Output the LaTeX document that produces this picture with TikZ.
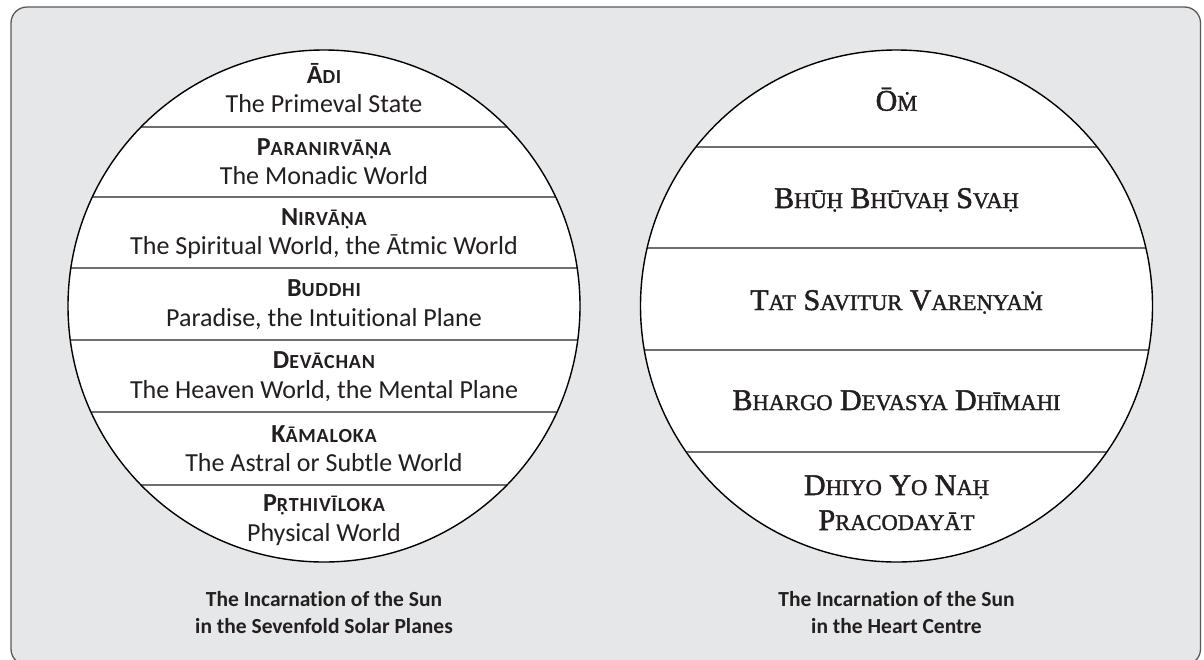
\documentclass[tikz,border=0pt]{standalone}
\usepackage{fontspec}
\newfontfamily\lfont[Ligatures=NoCommon]{Carlito}
\newfontfamily\rfont[FakeBold=1.6]{Liberation Serif}
\newcommand\lsc[1]{{\fontsize{20}{20}\selectfont\addfontfeature{LetterSpace=4}#1}}
\newcommand\rsc[1]{{\fontsize{22.5}{22.5}\selectfont #1}}
\definecolor{framefill}{HTML}{E6E7E8}
\definecolor{framedraw}{HTML}{58595B}
\definecolor{bandline}{HTML}{6D6E70}
\definecolor{txt}{HTML}{231F20}
\begin{document}
\begin{tikzpicture}[x=1pt,y=-1pt,
  head/.style={anchor=base,font=\lfont\bfseries\fontsize{26}{26}\selectfont,text=txt,inner sep=0pt},
  body/.style={anchor=base,font=\lfont\fontsize{26}{26}\selectfont,text=txt,inner sep=0pt},
  rtext/.style={anchor=base,font=\rfont\fontsize{30}{30}\selectfont,text=txt,inner sep=0pt},
  capt/.style={anchor=base,font=\lfont\bfseries\fontsize{21.5}{21.5}\selectfont,text=txt,inner sep=0pt},
  sep/.style={draw=bandline,line width=1.3pt},
  disc/.style={draw=black,line width=1.4pt}]
\useasboundingbox (0,0) rectangle (1204,659);
\draw[fill=framefill,draw=framedraw,line width=1.3pt,rounded corners=16pt] (11,7) rectangle (1200.5,665);
% left circle
\fill[white] (324,306) circle[radius=256];
\begin{scope}
\clip (324,306) circle[radius=256];
\foreach \y in {127,197,268,340,412,485} \draw[sep] (60,\y) -- (590,\y);
\end{scope}
\draw[disc] (324,306) circle[radius=256];
% right circle
\fill[white] (896.5,306) circle[radius=256];
\begin{scope}
\clip (896.5,306) circle[radius=256];
\foreach \y in {147,248,350,452} \draw[sep] (630,\y) -- (1160,\y);
\end{scope}
\draw[disc] (896.5,306) circle[radius=256];
% left texts
\node[head] (h1) at (324,83.3) {Ā\lsc{DI}};
\node[body] (b1) at (324,112.7) {The Primeval State};
\node[head] (h2) at (324,155) {P\lsc{ARANIRVĀṆA}};
\node[body] (b2) at (324,184) {The Monadic World};
\node[head] (h3) at (324,225) {N\lsc{IRVĀṆA}};
\node[body] (b3) at (324,254.3) {The Spiritual World, the Ātmic World};
\node[head] (h4) at (324,296.7) {B\lsc{UDDHI}};
\node[body] (b4) at (324,326) {Paradise, the Intuitional Plane};
\node[head] (h5) at (324,368.3) {D\lsc{EVĀCHAN}};
\node[body] (b5) at (324,398.3) {The Heaven World, the Mental Plane};
\node[head] (h6) at (324,442.7) {K\lsc{ĀMALOKA}};
\node[body] (b6) at (324,471.7) {The Astral or Subtle World};
\node[head] (h7) at (324,511.7) {P\lsc{ṚTHIVĪLOKA}};
\node[body] (b7) at (324,541) {Physical World};
% right texts
\node[rtext] (r1) at (896.5,110.7) {Ō\rsc{Ṁ}};
\node[rtext] (r2) at (896.5,208) {B\rsc{HŪḤ} B\rsc{HŪVAḤ} S\rsc{VAḤ}};
\node[rtext] (r3) at (896.5,310) {T\rsc{AT} S\rsc{AVITUR} V\rsc{AREṆYAṀ}};
\node[rtext] (r4) at (896.5,410) {B\rsc{HARGO} D\rsc{EVASYA} D\rsc{HĪMAHI}};
\node[rtext] (r5) at (896.5,495) {D\rsc{HIYO} Y\rsc{O} N\rsc{AḤ}};
\node[rtext] (r6) at (896.5,530) {P\rsc{RACODAYĀT}};
% captions
\node[capt] (c1) at (324,606) {The Incarnation of the Sun};
\node[capt] (c2) at (324,633) {in the Sevenfold Solar Planes};
\node[capt] (c3) at (896.5,606) {The Incarnation of the Sun};
\node[capt] (c4) at (896.5,633) {in the Heart Centre};
\end{tikzpicture}
\end{document}
